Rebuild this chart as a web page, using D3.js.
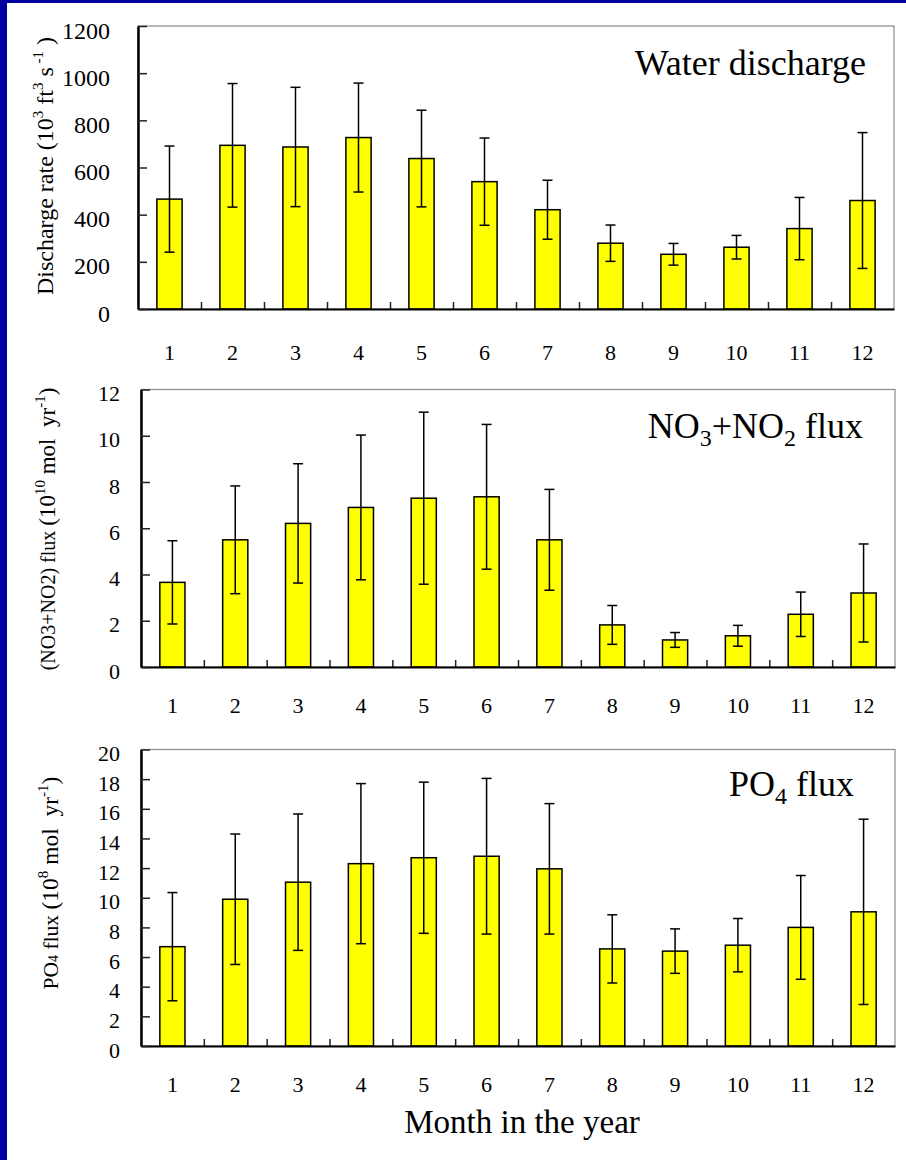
<!DOCTYPE html>
<html><head><meta charset="utf-8">
<script src="https://cdn.jsdelivr.net/npm/d3@7"></script>
<style>body{margin:0;background:#fff;} svg{display:block;}</style>
</head><body>
<svg id="c" width="906" height="1160"></svg>
<script>
// ---------- data ----------
const months = [1,2,3,4,5,6,7,8,9,10,11,12];

const discharge   = [466, 694, 687, 727, 638, 540, 421, 279, 232, 262, 341, 460];
const dischargeSD = [225, 262, 253, 231, 205, 185, 125,  77,  46,  50, 132, 288];
const dischargeTicks = [0,200,400,600,800,1000,1200];

const nitrate   = [3.66, 5.50, 6.21, 6.90, 7.30, 7.36, 5.50, 1.82, 1.17, 1.35, 2.28, 3.20];
const nitrateSD = [1.80, 2.33, 2.58, 3.13, 3.72, 3.13, 2.18, 0.84, 0.32, 0.45, 0.96, 2.12];
const nitrateTicks = [0,2,4,6,8,10,12];

const phosphate   = [6.7, 9.9, 11.05, 12.3, 12.7, 12.8, 11.95, 6.55, 6.4, 6.8, 8.0, 9.05];
const phosphateSD = [3.65, 4.4, 4.6, 5.4, 5.1, 5.25, 4.4, 2.3, 1.5, 1.8, 3.5, 6.25];
const phosphateTicks = [0,2,4,6,8,10,12,14,16,18,20];

const xTitle = "Month in the year";

// ---------- drawing ----------
const FONT = '"Liberation Serif","Times New Roman",Times,serif';
const svg = d3.select('#c');
svg.append('rect').attr('width',906).attr('height',1160).attr('fill','#0000a0');
svg.append('rect').attr('x',7).attr('y',3).attr('width',899).attr('height',1157).attr('fill','#fff');

const panels = [
  {values: discharge, sd: dischargeSD, ticks: dischargeTicks,
   left:138, right:894, top:26, bottom:309, yPad:28, yFont:24, xPad:35,
   title:[{t:"Water discharge"}], titleX:866, titleY:75,
   ylab:{x:53, y:166, segs:[
     {t:"Discharge rate (10", s:24},{t:"3", s:15, sh:-10},{t:" ft", s:24},{t:"3", s:15, sh:-10},
     {t:" s", s:24},{t:" -1", s:15, sh:-10},{t:" )", s:24}]}},
  {values: nitrate, sd: nitrateSD, ticks: nitrateTicks,
   left:141, right:895, top:389.5, bottom:667, yPad:21, yFont:22, xPad:30,
   title:[{t:"NO"},{t:"3", sub:true},{t:"+NO"},{t:"2", sub:true},{t:" flux"}], titleX:863, titleY:438,
   ylab:{x:55, y:529, segs:[
     {t:"(NO3+NO2) flux ", s:20},{t:"(10", s:23},{t:"10", s:15, sh:-10},{t:" mol  yr", s:23},
     {t:"-1", s:15, sh:-10},{t:")", s:23}]}},
  {values: phosphate, sd: phosphateSD, ticks: phosphateTicks,
   left:141, right:895, top:749.5, bottom:1046, yPad:21, yFont:22, xPad:30,
   title:[{t:"PO"},{t:"4", sub:true},{t:" flux"}], titleX:854, titleY:796,
   ylab:{x:58, y:883, segs:[
     {t:"PO", s:21.5},{t:"4", s:14},{t:" flux ", s:21.5},{t:"(10", s:23.5},{t:"8", s:15, sh:-10},
     {t:" mol  yr", s:23.5},{t:"-1", s:15, sh:-10},{t:")", s:23.5}]}}
];

panels.forEach(p => {
  const g = svg.append('g');
  const x = d3.scaleBand().domain(months).range([p.left, p.right]).paddingInner(0.6).paddingOuter(0.3);
  const xb = d3.scaleLinear().domain([0, months.length]).range([p.left, p.right]);
  const y = d3.scaleLinear().domain([0, d3.max(p.ticks)]).range([p.bottom, p.top]);

  // frame (top/right grey)
  g.append('rect').attr('x', p.left).attr('y', p.top)
    .attr('width', p.right - p.left).attr('height', p.bottom - p.top)
    .attr('fill', 'none').attr('stroke', '#8a8a8a').attr('stroke-width', 1.2);

  // bars
  g.selectAll('rect.bar').data(months).enter().append('rect').attr('class','bar')
    .attr('x', d => x(d)).attr('width', x.bandwidth())
    .attr('y', (d,i) => y(p.values[i])).attr('height', (d,i) => p.bottom - y(p.values[i]))
    .attr('fill', '#ffff00').attr('stroke', '#000').attr('stroke-width', 1.5);

  // error bars
  const eb = g.selectAll('g.eb').data(months).enter().append('g').attr('class','eb')
    .attr('stroke','#000').attr('stroke-width',1.5);
  eb.append('line')
    .attr('x1', d => x(d) + x.bandwidth()/2).attr('x2', d => x(d) + x.bandwidth()/2)
    .attr('y1', (d,i) => y(p.values[i] - p.sd[i])).attr('y2', (d,i) => y(p.values[i] + p.sd[i]));
  [-1, 1].forEach(s => {
    eb.append('line')
      .attr('x1', d => x(d) + x.bandwidth()/2 - 5).attr('x2', d => x(d) + x.bandwidth()/2 + 5)
      .attr('y1', (d,i) => y(p.values[i] + s*p.sd[i])).attr('y2', (d,i) => y(p.values[i] + s*p.sd[i]));
  });

  // boundary minor ticks on x axis
  const bt = g.append('g').attr('transform', `translate(0,${p.bottom})`)
    .call(d3.axisBottom(xb).tickValues(d3.range(1, months.length)).tickSizeInner(-7).tickSizeOuter(0).tickFormat(''));
  bt.select('.domain').remove();
  bt.selectAll('line').attr('stroke','#222').attr('stroke-width',1.5);

  // x labels
  const xa = g.append('g').attr('transform', `translate(0,${p.bottom})`)
    .call(d3.axisBottom(x).tickSize(0).tickPadding(p.xPad));
  xa.select('.domain').attr('stroke','#000').attr('stroke-width',2);
  xa.selectAll('text').attr('font-family', FONT).attr('font-size', 22).attr('fill','#000');

  // y axis
  const ya = g.append('g').attr('transform', `translate(${p.left},0)`)
    .call(d3.axisLeft(y).tickValues(p.ticks).tickFormat(d3.format('d'))
      .tickSizeInner(-9).tickSizeOuter(0).tickPadding(p.yPad));
  ya.select('.domain').attr('stroke','#000').attr('stroke-width',2.5);
  ya.selectAll('line').attr('stroke','#222').attr('stroke-width',1.5);
  ya.selectAll('text').attr('font-family', FONT).attr('font-size', p.yFont).attr('fill','#000').attr('dy','0.5em');

  // in-plot title
  const tt = g.append('text').attr('x', p.titleX).attr('y', p.titleY)
    .attr('text-anchor','end').attr('font-family', FONT).attr('font-size', 36).attr('fill','#000');
  let prev = 0;
  p.title.forEach(s => {
    const sh = s.sub ? 8 : 0;
    tt.append('tspan').text(s.t).attr('font-size', s.sub ? 24 : 36).attr('dy', sh - prev);
    prev = sh;
  });

  // y-axis title
  const yl = g.append('text')
    .attr('transform', `translate(${p.ylab.x},${p.ylab.y}) rotate(-90)`)
    .attr('text-anchor','middle').attr('font-family', FONT).attr('fill','#000')
    .style('white-space','pre');
  let pv = 0;
  p.ylab.segs.forEach(s => {
    const sh = s.sh || 0;
    yl.append('tspan').text(s.t).attr('font-size', s.s).attr('dy', sh - pv);
    pv = sh;
  });
});

svg.append('text').attr('x', 522).attr('y', 1133).attr('text-anchor','middle')
  .attr('font-family', FONT).attr('font-size', 33).attr('fill','#000').text(xTitle);
</script>
</body></html>
